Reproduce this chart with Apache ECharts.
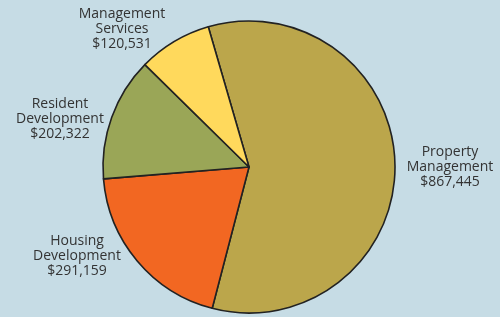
<!DOCTYPE html>
<html>
<head>
<meta charset="utf-8">
<script src="https://cdn.jsdelivr.net/npm/echarts@6/dist/echarts.min.js"></script>
<style>
html,body{margin:0;padding:0;background:#c6dce5;}
#c{width:500px;height:317px;}
</style>
</head>
<body>
<div id="c"></div>
<script>
// Data
var categories = ['Property Management', 'Housing Development', 'Resident Development', 'Management Services'];
var categoryLines = [['Property', 'Management'], ['Housing', 'Development'], ['Resident', 'Development'], ['Management', 'Services']];
var values = [867445, 291159, 202322, 120531];

// Styles
var colors = ['#bba64b', '#f26722', '#9aa657', '#ffd95c'];
var labelPos = [[450, 167], [77, 256], [60, 119], [122, 29]];

function fmt(v) { return '$' + v.toLocaleString('en-US'); }

var chart = echarts.init(document.getElementById('c'), null, {renderer: 'canvas'});
chart.setOption({
  backgroundColor: '#c6dce5',
  animation: false,
  series: [{
    type: 'pie',
    center: [249, 167],
    radius: 146,
    startAngle: 106.2,
    clockwise: true,
    avoidLabelOverlap: false,
    data: categories.map(function (c, i) {
      return { name: c, value: values[i], itemStyle: { color: colors[i] } };
    }),
    itemStyle: { borderColor: '#222', borderWidth: 1.6 },
    label: {
      show: true,
      position: 'outside',
      color: '#333',
      fontFamily: 'Open Sans',
      fontSize: 14,
      lineHeight: 15,
      formatter: function (p) {
        return categoryLines[p.dataIndex].join('\n') + '\n' + fmt(p.value);
      }
    },
    labelLine: { show: false },
    labelLayout: function (p) {
      var pos = labelPos[p.dataIndex];
      return { x: pos[0], y: pos[1], align: 'center', verticalAlign: 'middle' };
    },
    emphasis: { disabled: true }
  }]
});
</script>
</body>
</html>
